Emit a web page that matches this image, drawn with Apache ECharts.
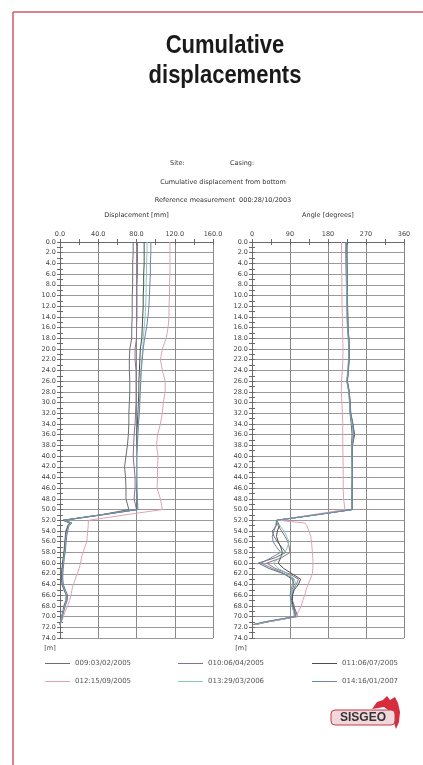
<!DOCTYPE html>
<html>
<head>
<meta charset="utf-8">
<script src="https://cdn.jsdelivr.net/npm/echarts/dist/echarts.min.js"></script>
<style>
  html, body { margin: 0; padding: 0; background: #fff; }
  #chart { width: 423px; height: 765px; }
</style>
</head>
<body>
<div id="chart"></div>
<script>
// depth [m] of each reading, shared by both plots
const depths = [0,2,4,6,8,10,12,14,16,18,20,22,24,26,28,30,32,34,36,38,40,42,44,46,48,50,
  51,52,52.5,53,54,55,56,57,58,59,60,61,62,63,64,65,66,67,68,69,70,70.5,71,71.5];

const names = ['009:03/02/2005', '010:06/04/2005', '011:06/07/2005',
               '012:15/09/2005', '013:29/03/2006', '014:16/01/2007'];
const colors = ['#6e6e6e', '#8b6f86', '#4d4d4d', '#e0a3b4', '#86c9bd', '#6f86a8'];

// cumulative displacement [mm]
const disp009 = [76.5,76.5,76,76,76,75.5,75.5,75.5,75,75,73,72.5,72.5,73,73,72.5,72,72,71.5,70.5,69,67.5,68.5,69,69,72,
  42,4,12,9, 6.5,6,5.5,5,4.5,4,3,2.5,2,2,2.5,4.5,7,6.5,4.5,3.5,2, 1.5,0.5,0];
const disp010 = [81,81,81,81,80.5,80.5,80.5,80.5,80,80,78.5,78.5,79.5,79.5,79.5,79.5,79,78.5,77.5,77,76.5,77.5,78.5,78.5,77.5,80,
  43,3.5,10,8, 6,5.5,5,4.5,4,3.5,2.5,2,1.5,1.5,2,4,6.5,6,4,3,1.5, 1,0.5,0];
const disp011 = [88,88,88,87.5,87.5,87,87,86.5,86,85.5,84,83.5,83,82.5,82.5,82,81.5,81,80.5,80,80,80,80,80,80,80.5,
  42,3,11,8.5, 7,6,5.5,5,4.5,3.5,3,2.5,2,2,3,5,7.5,7,5,3.5,2, 1.5,0.5,0];
const disp012 = [115,115,115,115,114.5,114.5,114,114,113,111,107,105,107,110,110,108,107,105,102,101,102.5,102,102,101.5,105,107,
  68,30,29.5,29.5, 29,28.5,28,26,24,22.5,21.5,20,18,16,14,12.5,11.5,10,8,5.5,3.5, 2.5,1.5,0];
const disp013 = [91,91,90.5,90.5,90,90,89.5,89,88,87,86.5,85.5,84.5,84,83.5,83,82.5,82,81,80.5,80,80,80,80.5,80.5,81,
  43,4,11.5,9, 7.5,6.5,6,5.5,5,4,3.5,3,2.5,2.5,3,5,7.5,7,5,3.5,2, 1.5,0.5,0];
const disp014 = [95,95,94.5,94.5,94,93.5,93,92,90.5,88.5,87,86,85,84.5,84,83.5,83,82,81.5,81,80.5,80.5,80.5,80.5,81,81.5,
  44,4.5,12.5,9.5, 8,7,6.5,6,5.5,4.5,4,3.5,3,3,3.5,5.5,8,7.5,5.5,4,2.5, 2,1,0];

// angle [degrees]
const ang009 = [222,222,222.5,223,223.5,224,224.5,225,226,228,229,228.5,227,224.5,229,231,232,235,237,235.5,236,236.5,236.5,236.5,236.5,236.5,
  150,60,58,58, 48,52,60,70,80,55,15,40,75,95,100,95,92,94,98,104,108, 70,35,3];
const ang010 = [224,224,224.5,225,225,225.5,226,226.5,227,229,230,229.5,228,225,230,232,233,238,240,237,237.5,237.5,237.5,237,237,237,
  150,60,60,62, 70,78,85,88,90,70,35,55,88,110,105,98,95,96,100,102,104, 72,38,8];
const ang011 = [225,225,225,225.5,226,226,226.5,227,227.5,229.5,230.5,230,228.5,226,230.5,232.5,234,239,243,238,238,238,238,237.5,237.5,237.5,
  148,58,62,65, 60,58,62,68,72,68,62,75,95,115,110,100,96,95,97,100,100, 68,32,5];
const ang012 = [212,212,212,212.5,213,213,213.5,214,214.5,215,215.5,215,214,212,211.5,213,214,215,215,215,215.5,216,216,216,217,220,
  140,62,125,130, 135,139,141,142,143,144,144.5,144,143,138,133,128,125,120,117,110,106, 75,35,7];
const ang013 = [223,223,223.5,224,224,224.5,225,225.5,226.5,228.5,229.5,229,227.5,225,229.5,231.5,233,237,241,236.5,237,237,237,237,237,237,
  150,59,60,66, 76,82,88,84,78,66,50,62,85,100,104,96,92,91,94,98,102, 66,30,4];
const ang014 = [224.5,224.5,225,225,225.5,226,226,226.5,227,229,230,229.5,228,225.5,230,232,233.5,238.5,241.5,237.5,237.5,238,238,237.5,237.5,237.5,
  150,58,57,56, 52,48,50,58,68,45,22,48,78,98,96,92,90,92,96,100,103, 64,28,2];

const dispSets = [disp009, disp010, disp011, disp012, disp013, disp014];
const angSets = [ang009, ang010, ang011, ang012, ang013, ang014];

const FONT = "'DejaVu Sans', sans-serif";
const labelStyle = {fontFamily: FONT, fontSize: 6.5, color: '#444'};
const boxColor = '#6a6a6a';

function xAxes(grid, max, interval, fmt) {
  const common = {
    gridIndex: grid, type: 'value', min: 0, max: max, interval: interval,
    axisLine: {show: true, lineStyle: {color: boxColor, width: 1}},
    axisTick: {show: true, inside: true, length: 3, lineStyle: {color: boxColor}},
    minorTick: {show: true, splitNumber: 2, length: 3, lineStyle: {color: boxColor}},
  };
  return [
    Object.assign({}, common, {
      position: 'top',
      axisLabel: Object.assign({margin: 4, formatter: fmt}, labelStyle),
      splitLine: {show: true, lineStyle: {color: '#8a8a8a', width: 1}}
    }),
    Object.assign({}, common, {
      position: 'bottom',
      axisLabel: {show: false},
      splitLine: {show: false}
    })
  ];
}

function yAxes(grid) {
  const common = {
    gridIndex: grid, type: 'value', inverse: true, min: 0, max: 74, interval: 2,
    axisLine: {show: true, lineStyle: {color: boxColor, width: 1}},
    axisTick: {show: true, inside: true, length: 3, lineStyle: {color: boxColor}},
    minorTick: {show: true, splitNumber: 2, length: 3, lineStyle: {color: boxColor}},
  };
  return [
    Object.assign({}, common, {
      position: 'left',
      axisLabel: Object.assign({margin: 4, formatter: v => v.toFixed(1)}, labelStyle),
      splitLine: {show: true, lineStyle: {color: '#9a9a9a', width: 1}}
    }),
    Object.assign({}, common, {
      position: 'right',
      axisLabel: {show: false},
      splitLine: {show: false}
    })
  ];
}

const series = [];
names.forEach((n, k) => {
  series.push({
    name: n, type: 'line', xAxisIndex: 0, yAxisIndex: 0,
    symbol: 'none', color: colors[k], lineStyle: {width: 1},
    data: depths.map((d, i) => [dispSets[k][i], d])
  });
});
names.forEach((n, k) => {
  series.push({
    name: n, type: 'line', xAxisIndex: 2, yAxisIndex: 2,
    symbol: 'none', color: colors[k], lineStyle: {width: 1},
    data: depths.map((d, i) => [angSets[k][i], d])
  });
});

const legendCols = [45, 178, 312];
const legendRows = [660, 678];
const legends = names.map((n, k) => ({
  data: [n],
  left: legendCols[k % 3],
  top: legendRows[Math.floor(k / 3)],
  icon: 'rect', itemWidth: 25, itemHeight: 1,
  itemGap: 0, padding: 0,
  textStyle: {fontFamily: FONT, fontSize: 7, color: '#555'}
}));

function txt(text, x, y, extra) {
  return {
    type: 'text', x: x, y: y, silent: true,
    style: Object.assign({text: text, x: 0, y: 0, fill: '#333',
      fontFamily: FONT, fontSize: 6.5, align: 'left', verticalAlign: 'middle'}, extra || {})
  };
}

const headFont = {align: 'center', verticalAlign: 'middle',
  fontFamily: "'Liberation Sans', Arial, sans-serif", fontWeight: 'bold', fontSize: 25,
  fill: '#1a1a1a'};

const chart = echarts.init(document.getElementById('chart'), null, {renderer: 'canvas'});
chart.setOption({
  backgroundColor: '#fff',
  animation: false,
  grid: [
    {left: 60, top: 242, width: 153, height: 396},
    {left: 252, top: 242, width: 152, height: 396}
  ],
  xAxis: [].concat(
    xAxes(0, 160, 40, v => v.toFixed(1)),
    xAxes(1, 360, 90, v => String(v))
  ),
  yAxis: [].concat(yAxes(0), yAxes(1)),
  legend: legends,
  series: series,
  graphic: [
    // page frame
    {type: 'line', silent: true, shape: {x1: 13, y1: 12, x2: 423, y2: 12},
      style: {stroke: '#d4596b', lineWidth: 1.5}},
    {type: 'line', silent: true, shape: {x1: 13, y1: 12, x2: 13, y2: 765},
      style: {stroke: '#d4596b', lineWidth: 1.5}},
    // heading
    {type: 'text', x: 225, y: 46.5, scaleX: 0.88, silent: true,
      style: Object.assign({text: 'Cumulative', x: 0, y: 0}, headFont)},
    {type: 'text', x: 225, y: 76.5, scaleX: 0.88, silent: true,
      style: Object.assign({text: 'displacements', x: 0, y: 0}, headFont)},
    txt('Site:', 170, 163),
    txt('Casing:', 230, 163),
    txt('Cumulative displacement from bottom', 223, 182, {align: 'center'}),
    txt('Reference measurement  000:28/10/2003', 223, 200, {align: 'center'}),
    txt('Displacement [mm]', 136.5, 215, {align: 'center'}),
    txt('Angle [degrees]', 328, 215, {align: 'center'}),
    txt('[m]', 50, 648, {align: 'center', fill: '#444'}),
    txt('[m]', 241, 648, {align: 'center', fill: '#444'}),
    // logo
    {type: 'polygon', silent: true,
      shape: {points: [[372,709],[377,702],[383,700],[387,696],[390,700],[395,697],[398,703],[400,712],[399,722],[396,729],[393,720],[391,712],[384,707]]},
      style: {fill: '#d62c3c'}},
    {type: 'rect', silent: true, shape: {x: 331, y: 710, width: 64, height: 15, r: 4},
      style: {fill: '#f1d7db', stroke: '#c23a48', lineWidth: 1}},
    {type: 'text', x: 363, y: 718, silent: true,
      style: {text: 'SISGEO', x: 0, y: 0, align: 'center', verticalAlign: 'middle',
        fontFamily: "'Liberation Sans', Arial, sans-serif", fontWeight: 'bold', fontSize: 12, fill: '#333'}}
  ]
});
</script>
</body>
</html>
